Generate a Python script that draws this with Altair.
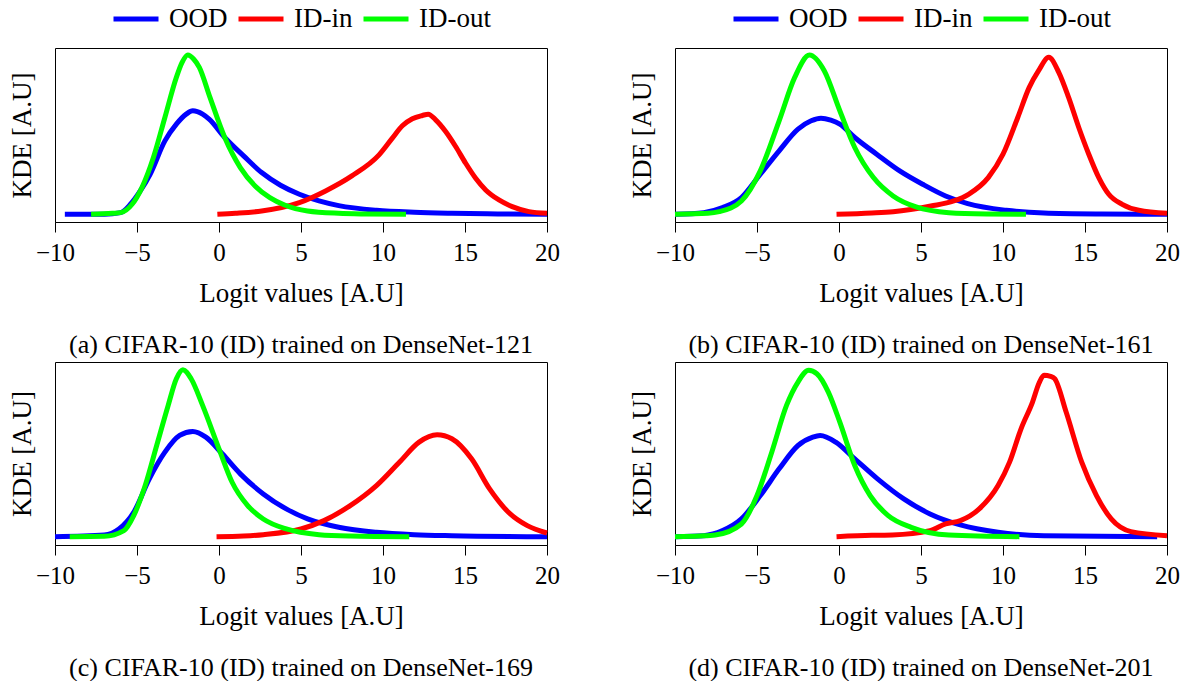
import altair as alt
import pandas as pd

SERIES = ["OOD", "ID-in", "ID-out"]
COLORS = ["#0000ff", "#ff0000", "#00ff00"]
X_TICKS = [-10, -5, 0, 5, 10, 15, 20]
CAPTIONS = {
    "a": "(a) CIFAR-10 (ID) trained on DenseNet-121",
    "b": "(b) CIFAR-10 (ID) trained on DenseNet-161",
    "c": "(c) CIFAR-10 (ID) trained on DenseNet-169",
    "d": "(d) CIFAR-10 (ID) trained on DenseNet-201",
}

# ---- panel (a) ----
a_ood_x = [-9.4, -7, -6, -5.4, -4.8, -4.2, -3.3, -2.6, -2, -1.6, -1, -0.6, 0.35, 1.5, 2.6, 3.75, 4.9, 6.1, 7.3, 9.6, 11.9, 14.2, 17, 20]
a_ood_y = [0, 0, 5, 30, 70, 120, 220, 270, 300, 310, 300, 285, 230, 175, 125, 87, 60, 40, 26, 12, 6, 3, 1, 0]
a_in_x = [-0.1, 1, 2.6, 4.9, 6.5, 8.1, 9.76, 10.57, 11.18, 11.79, 12.4, 12.76, 13.21, 13.82, 14.43, 15.04, 15.65, 16.26, 17.07, 17.88, 18.9, 20]
a_in_y = [0, 3, 10, 35, 70, 115, 178, 228, 265, 286, 296, 300, 283, 248, 203, 153, 108, 73, 43, 23, 8, 3]
a_out_x = [-7.8, -6.5, -6, -5.3, -4.7, -4.0, -3.3, -2.6, -2.25, -1.9, -1.55, -1.2, -0.55, 0.35, 1.3, 2.2, 3.1, 4.0, 5.4, 7.3, 9, 11.4]
a_out_y = [0, 3, 5, 30, 80, 170, 290, 410, 455, 477, 465, 440, 350, 230, 140, 85, 50, 28, 10, 3, 1, 0]

# ---- panel (b) ----
b_ood_x = [-10, -8.25, -7.1, -5.95, -4.8, -3.65, -2.5, -1.7, -1.1, -0.5, 0.05, 0.96, 2.3, 3.7, 5.1, 6.5, 7.85, 10.2, 12.5, 16, 20]
b_ood_y = [0, 5, 20, 50, 120, 190, 255, 280, 288, 282, 270, 230, 180, 130, 90, 55, 32, 12, 4, 1, 0]
b_in_x = [-0.15, 2, 3.3, 5.6, 7, 7.9, 9.1, 10, 10.9, 11.6, 12.17, 12.79, 13.4, 14.0, 14.62, 15.23, 15.84, 16.45, 17.27, 18.28, 20]
b_in_y = [0, 4, 8, 25, 40, 60, 110, 180, 290, 380, 430, 470, 425, 350, 260, 180, 110, 60, 30, 12, 3]
b_out_x = [-10, -8, -7.3, -5.95, -4.8, -3.65, -2.7, -1.8, -0.9, 0.05, 0.96, 2.1, 3.3, 4.7, 6.7, 9, 11.4]
b_out_y = [0, 3, 8, 40, 130, 280, 410, 477, 430, 310, 200, 110, 55, 22, 5, 1, 0]

# ---- panel (c) ----
c_ood_x = [-10, -7, -6.1, -5.2, -4.25, -3.3, -2.4, -1.6, -0.8, 0.2, 1.3, 2.7, 4.1, 5.4, 7.3, 9.6, 11.9, 14.2, 20]
c_ood_y = [0, 5, 23, 73, 173, 253, 303, 315, 298, 248, 188, 128, 83, 53, 28, 13, 6, 3, 0]
c_in_x = [-0.15, 1.5, 2.7, 5, 6.4, 8, 9.6, 11, 12.2, 13.3, 14.2, 15.4, 16.5, 17.65, 18.8, 20]
c_in_y = [0, 2, 6, 23, 48, 93, 153, 223, 283, 305, 293, 233, 143, 73, 33, 11]
c_out_x = [-9.1, -7, -5.8, -5.2, -4.5, -3.8, -3.1, -2.6, -2.2, -1.7, -1.0, 0, 0.8, 1.75, 2.7, 4.1, 6.1, 8, 11.6]
c_out_y = [0, 1, 18, 63, 153, 273, 393, 473, 500, 473, 393, 263, 163, 93, 53, 23, 6, 2, 0]

# ---- panel (d) ----
d_ood_x = [-10, -8.25, -7.1, -5.95, -4.8, -3.65, -2.5, -1.6, -1.15, -0.2, 0.96, 2.35, 3.95, 5.55, 7.4, 9.7, 12.5, 19.4]
d_ood_y = [0, 3, 18, 53, 123, 203, 273, 298, 303, 283, 233, 173, 113, 68, 35, 13, 3, 0]
d_in_x = [-0.15, 2, 3.25, 5.55, 6.5, 7.4, 8.55, 9.7, 10.4, 11.1, 11.8, 12.2, 12.5, 12.9, 13.15, 13.85, 14.8, 15.7, 16.6, 17.8, 20]
d_in_y = [0, 4, 5, 18, 38, 48, 83, 153, 223, 323, 403, 460, 483, 480, 473, 373, 223, 123, 53, 15, 3]
d_out_x = [-10, -8.5, -7.55, -5.95, -5, -4.1, -3.2, -2.5, -1.85, -1.35, -0.65, 0.05, 0.96, 1.9, 3.0, 4.4, 6.7, 11]
d_out_y = [0, 2, 5, 38, 123, 253, 393, 463, 498, 488, 433, 343, 213, 123, 63, 28, 5, 0]

PANELS = {
    "a": [(a_ood_x, a_ood_y), (a_in_x, a_in_y), (a_out_x, a_out_y)],
    "b": [(b_ood_x, b_ood_y), (b_in_x, b_in_y), (b_out_x, b_out_y)],
    "c": [(c_ood_x, c_ood_y), (c_in_x, c_in_y), (c_out_x, c_out_y)],
    "d": [(d_ood_x, d_ood_y), (d_in_x, d_in_y), (d_out_x, d_out_y)],
}
Y_DOMAINS = {"a": [-23, 498], "b": [-23, 498], "c": [-25, 523], "d": [-25, 523]}
HEIGHTS = {"a": 174, "b": 174, "c": 183, "d": 183}

FONT = "Liberation Serif"
W = 492


def panel(key, show_legend):
    rows = []
    for s, (xs, ys) in zip(SERIES, PANELS[key]):
        for i, (x, y) in enumerate(zip(xs, ys)):
            rows.append({"series": s, "x": x, "y": y, "i": i})
    df = pd.DataFrame(rows)

    if show_legend:
        legend = alt.Legend(
            orient="none", legendX=56, legendY=-54, direction="horizontal",
            title=None, symbolType="stroke", symbolStrokeWidth=5, symbolSize=2025,
            labelFont=FONT, labelFontSize=27, labelColor="black",
            labelOffset=8, columnPadding=0, symbolOpacity=1,
        )
    else:
        legend = None

    color = alt.Color("series:N", scale=alt.Scale(domain=SERIES, range=COLORS), legend=legend)
    x = alt.X(
        "x:Q",
        scale=alt.Scale(domain=[-10, 20], nice=False, zero=False),
        axis=alt.Axis(
            values=X_TICKS, title="Logit values [A.U]", grid=False,
            tickSize=10, tickColor="black", domainColor="black",
            labelFont=FONT, labelFontSize=25, labelColor="black", labelPadding=8,
            labelFlush=False, labelOverlap=False,
            labelExpr="datum.value < 0 ? '\u2212' + format(abs(datum.value), 'd') : format(datum.value, 'd')",
            titleFont=FONT, titleFontSize=27, titleFontWeight="normal",
            titleColor="black", titlePadding=15,
        ),
    )
    y = alt.Y(
        "y:Q",
        scale=alt.Scale(domain=Y_DOMAINS[key], nice=False, zero=False),
        axis=alt.Axis(
            title="KDE [A.U]", labels=False, ticks=False, domain=False, grid=False,
            titleFont=FONT, titleFontSize=27, titleFontWeight="normal",
            titleColor="black", titlePadding=19,
        ),
    )
    layers = [
        alt.Chart(df[df.series == s]).mark_line(strokeWidth=5, interpolate="monotone")
        .encode(x=x, y=y, color=color, order="i:Q")
        for s in SERIES
    ]
    return alt.layer(*layers).properties(
        width=W, height=HEIGHTS[key],
        title=alt.TitleParams(
            text=CAPTIONS[key], orient="bottom", anchor="middle",
            font=FONT, fontSize=26, fontWeight="normal", color="black", offset=26,
        ),
    )


row1 = alt.hconcat(panel("a", True), panel("b", True), spacing=67).resolve_scale(color="independent")
row2 = alt.hconcat(panel("c", False), panel("d", False), spacing=67).resolve_scale(color="independent")

chart = (
    alt.vconcat(row1, row2, spacing=0)
    .resolve_scale(color="independent")
    .properties(padding={"left": 7, "top": -7, "right": 0, "bottom": 0}, background="white")
    .configure_view(stroke="black", strokeWidth=1)
    .configure_axis(labelFont=FONT, titleFont=FONT, labelColor="black", titleColor="black")
    .configure_legend(labelFont=FONT, titleFont=FONT, labelColor="black")
    .configure_title(font=FONT)
    .configure_text(font=FONT)
)

chart.save("out.html", embed_options={"renderer": "svg", "actions": False})
